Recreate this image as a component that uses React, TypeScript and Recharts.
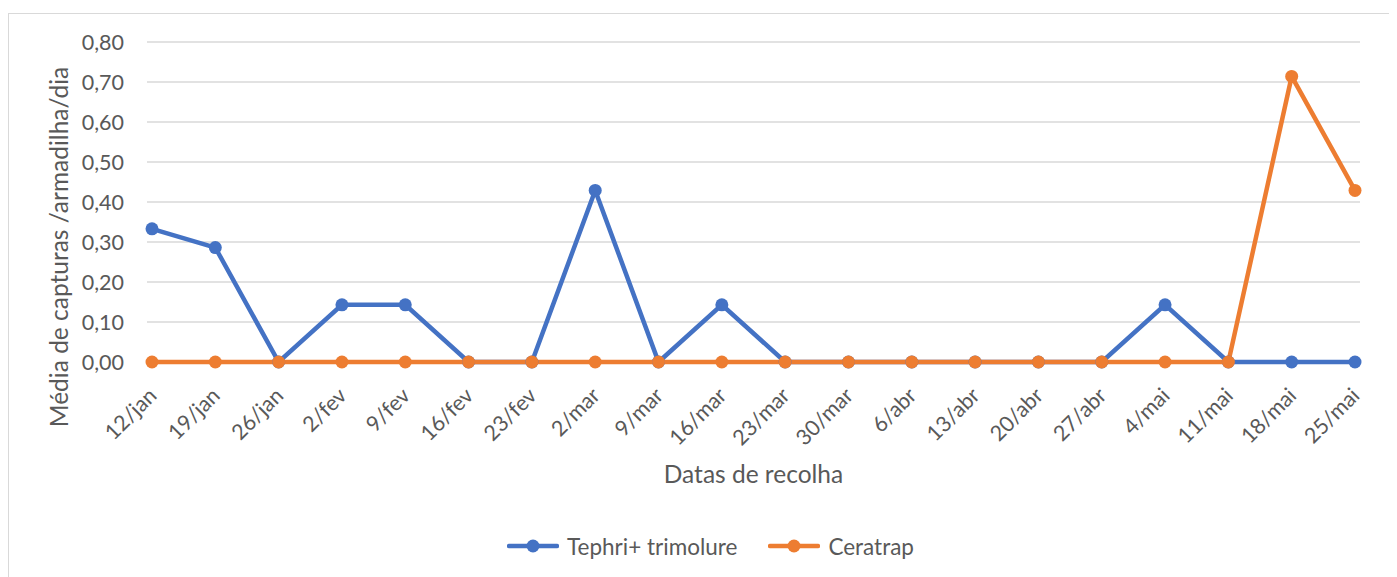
import React from "react";
import {
  LineChart,
  Line,
  XAxis,
  YAxis,
  CartesianGrid,
  Legend,
  Label,
} from "recharts";

const categories = [
  "12/jan", "19/jan", "26/jan", "2/fev", "9/fev", "16/fev", "23/fev",
  "2/mar", "9/mar", "16/mar", "23/mar", "30/mar", "6/abr", "13/abr",
  "20/abr", "27/abr", "4/mai", "11/mai", "18/mai", "25/mai",
];
const tephri = [
  0.333, 0.286, 0, 0.143, 0.143, 0, 0, 0.429, 0, 0.143,
  0, 0, 0, 0, 0, 0, 0.143, 0, 0, 0,
];
const ceratrap = [
  0, 0, 0, 0, 0, 0, 0, 0, 0, 0,
  0, 0, 0, 0, 0, 0, 0, 0, 0.714, 0.429,
];
const yTicks = [0, 0.1, 0.2, 0.3, 0.4, 0.5, 0.6, 0.7, 0.8];

const BLUE = "#4472C4";
const ORANGE = "#ED7D31";
const TEXT = "#595959";
const GRID = "#D9D9D9";
const FONT = "Lato, 'Open Sans', sans-serif";

const data = categories.map((name, i) => ({
  name,
  tephri: tephri[i],
  ceratrap: ceratrap[i],
}));

const fmt = (v: number) => v.toFixed(2).replace(".", ",");

function XTick(props: any) {
  const { x, y, payload } = props;
  return (
    <g transform={`translate(${x + 6},${y + 27})`}>
      <text
        transform="rotate(-45)"
        textAnchor="end"
        fill={TEXT}
        fontSize={21.5}
        fontFamily={FONT}
      >
        {payload.value}
      </text>
    </g>
  );
}

function LegendBox() {
  const items = [
    { label: "Tephri+ trimolure", color: BLUE },
    { label: "Ceratrap", color: ORANGE },
  ];
  return (
    <div
      style={{
        display: "flex",
        justifyContent: "center",
        alignItems: "center",
        width: 1388,
        height: 28,
        paddingLeft: 15,
        boxSizing: "border-box",
        fontFamily: FONT,
        fontSize: 22.5,
        color: TEXT,
        gap: 31,
      }}
    >
      {items.map((it) => (
        <div key={it.label} style={{ display: "flex", alignItems: "center" }}>
          <svg width={52} height={16}>
            <line x1={2} y1={8} x2={50} y2={8} stroke={it.color} strokeWidth={4.5} strokeLinecap="round" />
            <circle cx={26} cy={8} r={6.5} fill={it.color} />
          </svg>
          <span style={{ marginLeft: 8 }}>{it.label}</span>
        </div>
      ))}
    </div>
  );
}

export default function App() {
  return (
    <div
      style={{
        position: "relative",
        top: 5,
        width: 1400,
        height: 570,
        border: `1px solid ${GRID}`,
        background: "#fff",
      }}
    >
      <LineChart
        width={1388}
        height={563}
        data={data}
        margin={{ top: 28, right: 37, left: 58, bottom: 10 }}
      >
        <CartesianGrid vertical={false} stroke={GRID} strokeWidth={1.5} />
        <XAxis
          dataKey="name"
          interval={0}
          height={165}
          padding={{ left: 5, right: 5 }}
          axisLine={false}
          tickLine={false}
          tick={<XTick />}
        >
          <Label
            value="Datas de recolha"
            position="insideBottom"
            offset={44}
            fill={TEXT}
            fontSize={24.5}
            fontFamily={FONT}
          />
        </XAxis>
        <YAxis
          width={80}
          domain={[0, 0.8]}
          ticks={yTicks}
          tickFormatter={fmt}
          axisLine={false}
          tickLine={false}
          tickSize={0}
          tickMargin={23}
          tick={{ fill: TEXT, fontSize: 21.5, fontFamily: FONT }}
        >
          <Label
            content={() => (
              <text
                x={49}
                y={233}
                transform="rotate(-90 49 233)"
                textAnchor="middle"
                dominantBaseline="central"
                fill={TEXT}
                fontSize={24.5}
                fontFamily={FONT}
              >
                Média de capturas /armadilha/dia
              </text>
            )}
          />
        </YAxis>
        <Legend
          verticalAlign="bottom"
          height={40}
          content={() => <LegendBox />}
          wrapperStyle={{ left: 0, top: 518, width: 1388 }}
        />
        <Line
          dataKey="tephri"
          name="Tephri+ trimolure"
          stroke={BLUE}
          strokeWidth={4.5}
          dot={{ r: 6.5, fill: BLUE, stroke: BLUE, strokeWidth: 0 }}
          isAnimationActive={false}
        />
        <Line
          dataKey="ceratrap"
          name="Ceratrap"
          stroke={ORANGE}
          strokeWidth={4.5}
          dot={{ r: 6.5, fill: ORANGE, stroke: ORANGE, strokeWidth: 0 }}
          isAnimationActive={false}
        />
      </LineChart>
    </div>
  );
}
